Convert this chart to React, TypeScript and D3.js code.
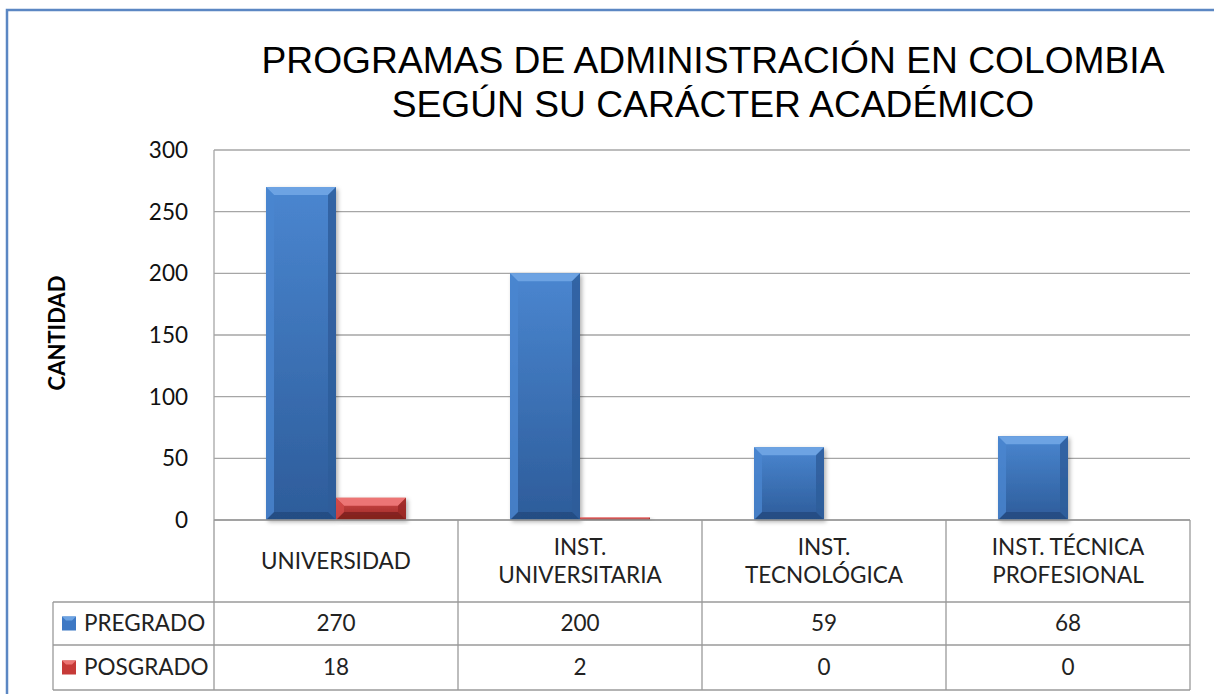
import * as React from 'react';
import * as d3 from 'd3';

const categories = ['UNIVERSIDAD', 'INST. UNIVERSITARIA', 'INST. TECNOLÓGICA', 'INST. TÉCNICA PROFESIONAL'];
const categoryLines = [['UNIVERSIDAD'], ['INST.', 'UNIVERSITARIA'], ['INST.', 'TECNOLÓGICA'], ['INST. TÉCNICA', 'PROFESIONAL']];
const seriesNames = ['PREGRADO', 'POSGRADO'];
const pregrado = [270, 200, 59, 68];
const posgrado = [18, 2, 0, 0];
const yTicks = [0, 50, 100, 150, 200, 250, 300];
const titleLines = ['PROGRAMAS DE ADMINISTRACIÓN EN COLOMBIA', 'SEGÚN SU CARÁCTER ACADÉMICO'];

const W = 1214;
const H = 694;
const plot = { left: 214, right: 1190, top: 150, bottom: 520 };
const tableLeft = 53;
const rowBottoms = [602, 645, 690];
const bodyFont = 'Lato, "Open Sans", sans-serif';
const bodySize = 22.5;

const palette = {
  PREGRADO: { main: '#3d78c4', light: '#6da3e3', dark: '#2d5c9a', darker: '#234a80', side: '#4a86d0' },
  POSGRADO: { main: '#c63a38', light: '#ec7574', dark: '#992826', darker: '#7f1f1d', side: '#d24a48' },
} as Record<string, { main: string; light: string; dark: string; darker: string; side: string }>;

function BevelBar({ x, y, w, h, s }: { x: number; y: number; w: number; h: number; s: string }) {
  const c = palette[s];
  const b = Math.min(8, h / 2, w / 2);
  const x2 = x + w;
  const y2 = y + h;
  const pts = (p: number[][]) => p.map((d) => d.join(',')).join(' ');
  return (
    <g filter="url(#barShadow)">
      <rect x={x} y={y} width={w} height={h} fill={`url(#grad-${s})`} />
      <polygon points={pts([[x, y], [x2, y], [x2 - b, y + b], [x + b, y + b]])} fill={c.light} />
      <polygon points={pts([[x2, y], [x2, y2], [x2 - b, y2 - b], [x2 - b, y + b]])} fill={c.dark} opacity={0.8} />
      <polygon points={pts([[x, y2], [x2, y2], [x2 - b, y2 - b], [x + b, y2 - b]])} fill={c.darker} opacity={0.85} />
      <polygon points={pts([[x, y], [x + b, y + b], [x + b, y2 - b], [x, y2]])} fill={c.side} opacity={0.8} />
    </g>
  );
}

export default function App() {
  const x = d3.scaleBand<string>().domain(categories).range([plot.left, plot.right]);
  const xInner = d3.scaleBand<string>().domain(seriesNames).range([52, 192]);
  const y = d3.scaleLinear().domain([0, 300]).range([plot.bottom, plot.top]);
  const values: Record<string, number[]> = { PREGRADO: pregrado, POSGRADO: posgrado };
  const gridColor = '#a6a6a6';
  const tableColor = '#9a9a9a';

  return (
    <svg width={W} height={H} style={{ position: 'absolute', left: 0, top: 0, background: '#fff' }}>
      <defs>
        {seriesNames.map((s) => (
          <linearGradient key={s} id={`grad-${s}`} x1="0" y1="0" x2="0" y2="1">
            <stop offset="0%" stopColor={palette[s].side} />
            <stop offset="100%" stopColor={palette[s].dark} />
          </linearGradient>
        ))}
        <filter id="barShadow" x="-10%" y="-10%" width="130%" height="130%">
          <feDropShadow dx="2" dy="2" stdDeviation="2" floodColor="#000" floodOpacity="0.3" />
        </filter>
      </defs>

      {/* outer frame */}
      <path d={`M7,${H} V10 H${W}`} fill="none" stroke="#5b87c3" strokeWidth={2.5} />

      {/* title */}
      <text x={713} textAnchor="middle" fontFamily='"Liberation Sans", Arial, sans-serif' fontSize={37.2} fill="#000">
        {titleLines.map((t, i) => (
          <tspan key={i} x={713} y={73 + i * 44}>{t}</tspan>
        ))}
      </text>

      {/* grid */}
      {yTicks.map((t) => (
        <line key={t} x1={plot.left} x2={plot.right} y1={y(t)} y2={y(t)} stroke={gridColor} strokeWidth={1.3} />
      ))}
      <line x1={plot.left} x2={plot.left} y1={plot.top} y2={plot.bottom} stroke={gridColor} strokeWidth={1.3} />

      {/* y ticks */}
      {yTicks.map((t) => (
        <text key={t} x={188} y={y(t)} dy="0.35em" textAnchor="end" fontFamily={bodyFont} fontSize={bodySize} fill="#111">{t}</text>
      ))}
      <text transform={`translate(65,${(plot.top + plot.bottom) / 2 - 2}) rotate(-90)`} textAnchor="middle" fontFamily={bodyFont} fontWeight="bold" fontSize={22} fill="#000">CANTIDAD</text>

      {/* bars */}
      {seriesNames.map((s) =>
        categories.map((c, i) => {
          const v = values[s][i];
          if (v <= 0) return null;
          return (
            <BevelBar key={s + c} s={s} x={(x(c) ?? 0) + (xInner(s) ?? 0)} y={y(v)} w={xInner.bandwidth()} h={y(0) - y(v)} />
          );
        })
      )}

      {/* data table */}
      <g stroke={tableColor} strokeWidth={1.3}>
        <line x1={plot.left} x2={plot.right} y1={plot.bottom} y2={plot.bottom} />
        {rowBottoms.map((r) => (
          <line key={r} x1={tableLeft} x2={plot.right} y1={r} y2={r} />
        ))}
        <line x1={tableLeft} x2={tableLeft} y1={rowBottoms[0]} y2={rowBottoms[2]} />
        {categories.map((c) => (
          <line key={c} x1={x(c)} x2={x(c)} y1={plot.bottom} y2={rowBottoms[2]} />
        ))}
        <line x1={plot.right} x2={plot.right} y1={plot.bottom} y2={rowBottoms[2]} />
      </g>

      {categories.map((c, i) => {
        const lines = categoryLines[i];
        const cx = (x(c) ?? 0) + x.bandwidth() / 2;
        const mid = (plot.bottom + rowBottoms[0]) / 2;
        return (
          <text key={c} textAnchor="middle" fontFamily={bodyFont} fontSize={bodySize} fill="#222">
            {lines.map((l, j) => (
              <tspan key={j} x={cx} y={mid + (j - (lines.length - 1) / 2) * 28} dy="0.35em">{l}</tspan>
            ))}
          </text>
        );
      })}

      {seriesNames.map((s, r) => {
        const top = rowBottoms[r];
        const bot = rowBottoms[r + 1];
        const mid = (top + bot) / 2;
        return (
          <g key={s}>
            <rect x={62} y={mid - 7} width={14} height={14} fill={palette[s].main} />
            <polygon points={`${62},${mid - 7} ${76},${mid - 7} ${72},${mid - 3} ${66},${mid - 3}`} fill={palette[s].light} />
            <text x={84} y={mid} dy="0.35em" fontFamily={bodyFont} fontSize={bodySize} fill="#222">{s}</text>
            {categories.map((c, i) => (
              <text key={c} x={(x(c) ?? 0) + x.bandwidth() / 2} y={mid} dy="0.35em" textAnchor="middle" fontFamily={bodyFont} fontSize={bodySize} fill="#222">
                {values[s][i]}
              </text>
            ))}
          </g>
        );
      })}
    </svg>
  );
}
